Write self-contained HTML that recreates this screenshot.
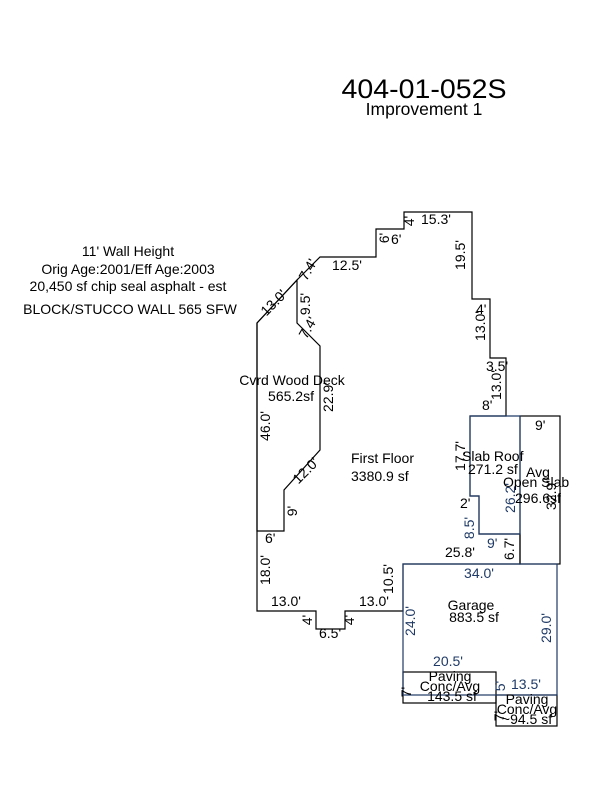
<!DOCTYPE html>
<html><head><meta charset="utf-8"><style>
html,body{margin:0;padding:0;background:#fff;}
svg{display:block;font-family:"Liberation Sans",Arial,sans-serif;}
</style></head><body>
<svg width="600" height="800" viewBox="0 0 600 800" xmlns="http://www.w3.org/2000/svg">
<rect width="600" height="800" fill="#fff"/>
<text x="424" y="98" font-size="27" text-anchor="middle" textLength="165" lengthAdjust="spacingAndGlyphs">404-01-052S</text>
<text x="424" y="115" font-size="17.5" text-anchor="middle">Improvement 1</text>

<g font-size="14" text-anchor="middle">
<text x="128" y="256">11' Wall Height</text>
<text x="128" y="274">Orig Age:2001/Eff Age:2003</text>
<text x="128" y="291">20,450 sf chip seal asphalt - est</text>
<text x="130" y="314">BLOCK/STUCCO WALL 565 SFW</text>
</g>

<g fill="none" stroke="#000" stroke-width="1.2">
<polygon points="257,323 297,280 320,257 376,257 376,229 404,229 404,212 472,212 472,299 490,299 490,358 506,358 506,416 470,416 470,496 479,496 479,534 520,534 520,564 403,564 403,611 345,611 345,629 316,629 316,611 257,611"/>
<polygon points="257,323 297,280 297,323 320,346 320,450 284,490 284,531 257,531"/>
<rect x="520" y="416" width="40" height="148"/>
<rect x="403" y="672" width="93" height="31"/>
<rect x="496" y="695" width="61" height="31"/>
</g>
<g fill="none" stroke="#1f3a66" stroke-width="1.2">
<polyline points="470,416 520,416 520,534 479,534 479,496 470,496 470,416"/>
<rect x="403" y="564" width="154" height="131"/>
</g>

<g font-size="14" fill="#000">
<text x="292" y="385" text-anchor="middle">Cvrd Wood Deck</text>
<text x="291" y="401" text-anchor="middle">565.2sf</text>
<text x="351" y="463">First Floor</text>
<text x="351" y="481">3380.9 sf</text>
<text x="462" y="461">Slab Roof</text>
<text x="468" y="474">271.2 sf</text>
<text x="526" y="477">Avg</text>
<text x="503" y="487">Open Slab</text>
<text x="515" y="503">296.6sf</text>
<text x="471" y="610" text-anchor="middle">Garage</text>
<text x="474" y="622" text-anchor="middle">883.5 sf</text>
<text x="450" y="681" text-anchor="middle">Paving</text>
<text x="450" y="691" text-anchor="middle">Conc/Avg</text>
<text x="452" y="701" text-anchor="middle">143.5 sf</text>
<text x="527" y="704" text-anchor="middle">Paving</text>
<text x="527" y="714" text-anchor="middle">Conc/Avg</text>
<text x="527" y="724" text-anchor="middle">~94.5 sf</text>

<text x="421" y="224">15.3'</text>
<text x="332" y="270">12.5'</text>
<text x="486" y="371">3.5'</text>
<text x="482" y="410">8'</text>
<text x="535" y="430">9'</text>
<text x="460" y="508">2'</text>
<text x="445" y="557">25.8'</text>
<text x="265" y="543">6'</text>
<text x="271" y="606">13.0'</text>
<text x="359" y="606">13.0'</text>
<text x="319" y="638">6.5'</text>

<text transform="translate(414,221) rotate(-90)" text-anchor="middle">4'</text>
<text transform="translate(389,238) rotate(-90)" text-anchor="middle">6'</text>
<text x="391" y="244">6'</text>
<text transform="translate(465,255) rotate(-90)" text-anchor="middle">19.5'</text>
<text transform="translate(485,326) rotate(-90)" text-anchor="middle">13.0'</text>
<text x="476" y="314">4'</text>
<text transform="translate(501,385) rotate(-90)" text-anchor="middle">13.0'</text>
<text transform="translate(310,304) rotate(-90)" text-anchor="middle">9.5'</text>
<text transform="translate(312,330) rotate(-60)" text-anchor="middle">7.4'</text>
<text transform="translate(312,272) rotate(-60)" text-anchor="middle">7.4'</text>
<text transform="translate(277,306) rotate(-45)" text-anchor="middle">13.0'</text>
<text transform="translate(333,397) rotate(-90)" text-anchor="middle">22.9'</text>
<text transform="translate(270,426) rotate(-90)" text-anchor="middle">46.0'</text>
<text transform="translate(309,474) rotate(-45)" text-anchor="middle">12.0'</text>
<text transform="translate(297,511) rotate(-90)" text-anchor="middle">9'</text>
<text transform="translate(270,570) rotate(-90)" text-anchor="middle">18.0'</text>
<text transform="translate(393,579) rotate(-90)" text-anchor="middle">10.5'</text>
<text transform="translate(312,620) rotate(-90)" text-anchor="middle">4'</text>
<text transform="translate(354,620) rotate(-90)" text-anchor="middle">4'</text>
<text transform="translate(465,456) rotate(-90)" text-anchor="middle">17.7'</text>
<text transform="translate(514,549) rotate(-90)" text-anchor="middle">6.7'</text>
<text transform="translate(556,495) rotate(-90)" text-anchor="middle">32.9'</text>
<text transform="translate(411,692) rotate(-90)" text-anchor="middle">7'</text>
<text transform="translate(504,716) rotate(-90)" text-anchor="middle">7'</text>
</g>
<g font-size="14" fill="#1f3a66">
<text x="479" y="578" text-anchor="middle">34.0'</text>
<text x="448" y="666" text-anchor="middle">20.5'</text>
<text x="511" y="689">13.5'</text>
<text x="487" y="548">9'</text>
<text transform="translate(415,621) rotate(-90)" text-anchor="middle">24.0'</text>
<text transform="translate(551,628) rotate(-90)" text-anchor="middle">29.0'</text>
<text transform="translate(515,498) rotate(-90)" text-anchor="middle">26.2'</text>
<text transform="translate(474,528) rotate(-90)" text-anchor="middle">8.5'</text>
<text transform="translate(505,686) rotate(-90)" text-anchor="middle">5'</text>
</g>
</svg>
</body></html>
